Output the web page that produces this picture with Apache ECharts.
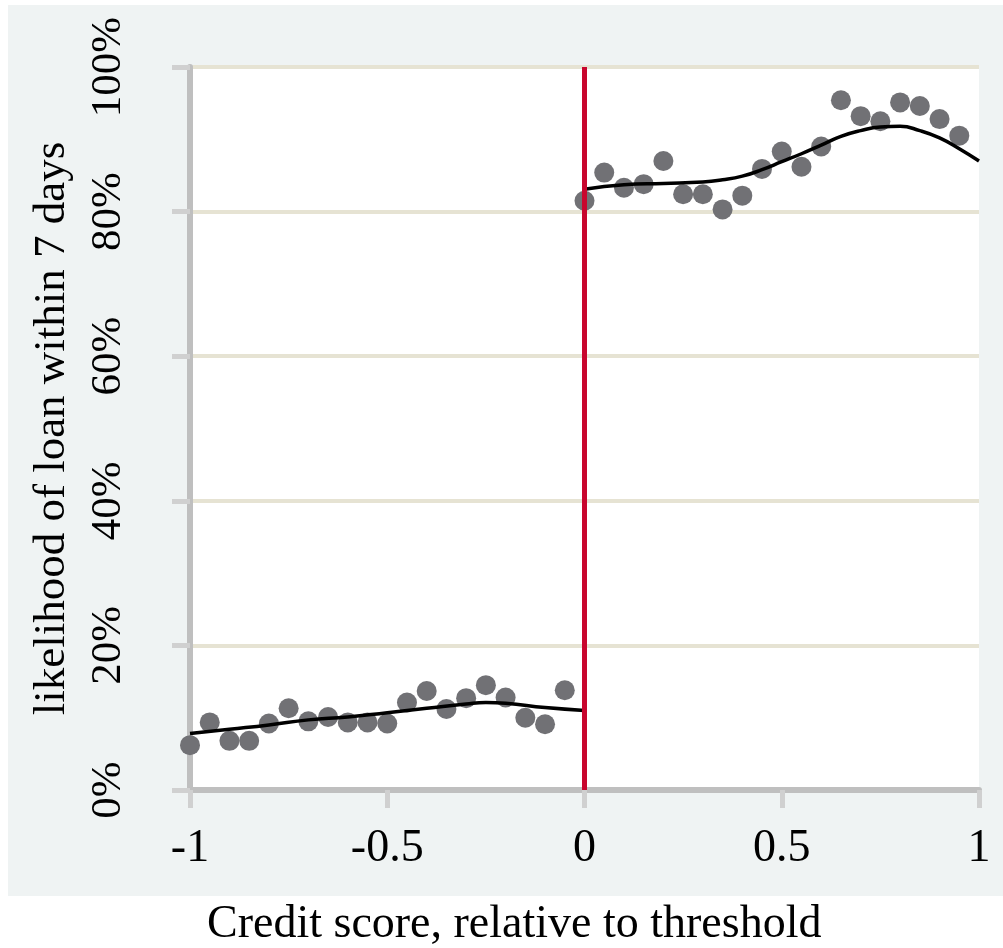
<!DOCTYPE html>
<html>
<head>
<meta charset="utf-8">
<script src="https://cdn.jsdelivr.net/npm/echarts@6/dist/echarts.min.js"></script>
<style>html,body{margin:0;padding:0;background:#fff}#c{width:1003px;height:948px}</style>
</head>
<body>
<div id="c"></div>
<script>
// Binned data: credit score relative to threshold (x) and likelihood of loan within 7 days (%)
var leftX = [-1.0,-0.95,-0.9,-0.85,-0.8,-0.75,-0.7,-0.65,-0.6,-0.55,-0.5,-0.45,-0.4,-0.35,-0.3,-0.25,-0.2,-0.15,-0.1,-0.05];
var leftY = [6.2,9.35,6.8,6.8,9.2,11.3,9.5,10.1,9.35,9.35,9.2,12.1,13.7,11.2,12.7,14.5,12.8,10.0,9.1,13.8];
var rightX = [0.0,0.05,0.1,0.15,0.2,0.25,0.3,0.35,0.4,0.45,0.5,0.55,0.6,0.65,0.7,0.75,0.8,0.85,0.9,0.95];
var rightY = [81.5,85.4,83.3,83.8,87.0,82.4,82.4,80.3,82.2,85.9,88.3,86.2,89.0,95.4,93.2,92.5,95.1,94.6,92.8,90.5];
// Fitted curves
var fitLeftX = [-1.0,-0.9,-0.8,-0.7,-0.6,-0.5,-0.4,-0.3,-0.25,-0.2,-0.1,0.0];
var fitLeftY = [7.8,8.4,9.0,9.7,10.1,10.7,11.3,11.9,12.1,12.0,11.4,11.0];
var fitRightX = [0.0,0.1,0.2,0.3,0.35,0.4,0.45,0.5,0.55,0.6,0.65,0.7,0.75,0.8,0.85,0.9,0.95,1.0];
var fitRightY = [83.1,83.7,83.9,84.1,84.4,84.9,85.8,86.9,88.0,89.2,90.4,91.2,91.7,91.8,91.2,90.2,88.7,87.0];
var thresholdX = 0;
var yTicks = ['0%','20%','40%','60%','80%','100%'];
var xTitle = 'Credit score, relative to threshold';
var yTitle = 'likelihood of loan within 7 days';

function zip(a,b){return a.map(function(v,i){return [v,b[i]];});}
var FONT = 'Liberation Serif';
var G = {left:190,right:24,top:67,bottom:158};
var chart = echarts.init(document.getElementById('c'), null, {renderer:'canvas'});
chart.setOption({
  animation:false,
  backgroundColor:'#ffffff',
  graphic:[
    {type:'rect', z:-10, silent:true, shape:{x:8,y:5,width:995,height:891}, style:{fill:'#eff3f3'}},
    {type:'rect', z:-9, silent:true, shape:{x:G.left,y:G.top,width:1003-G.left-G.right,height:948-G.top-G.bottom}, style:{fill:'#ffffff'}},
    {type:'text', left:516-309, top:902, silent:true, style:{text:xTitle, font:'46px "Liberation Serif"', fill:'#000'}}
  ],
  grid:{left:G.left,right:G.right,top:G.top,bottom:G.bottom,show:false},
  xAxis:{
    type:'value',min:-1,max:1,interval:0.5,
    axisLine:{show:true,onZero:false,lineStyle:{color:'#bfbfbf',width:6}},
    axisTick:{show:true,length:18,lineStyle:{color:'#d0d0d0',width:5}},
    splitLine:{show:false},
    axisLabel:{margin:36,color:'#000',fontFamily:FONT,fontSize:46,formatter:function(v){return String(v);}}
  },
  yAxis:{
    type:'value',min:0,max:100,interval:20,
    name:yTitle,nameLocation:'middle',nameGap:115,nameRotate:90,
    nameTextStyle:{color:'#000',fontFamily:FONT,fontSize:45},
    axisLine:{show:true,onZero:false,lineStyle:{color:'#bfbfbf',width:6}},
    axisTick:{show:true,length:18,lineStyle:{color:'#d0d0d0',width:5}},
    splitLine:{show:true,lineStyle:{color:'#e6e3d3',width:4}},
    axisLabel:{rotate:90,margin:60,color:'#000',fontFamily:FONT,fontSize:43,
      formatter:function(v){return yTicks[Math.round(v/20)];}}
  },
  series:[
    {type:'scatter',data:zip(leftX,leftY),symbolSize:20,itemStyle:{color:'#717175',opacity:1},z:2},
    {type:'scatter',data:zip(rightX,rightY),symbolSize:20,itemStyle:{color:'#717175',opacity:1},z:2,
      markLine:{silent:true,symbol:['none','none'],label:{show:false},
        lineStyle:{color:'#c8062e',width:5,type:'solid',opacity:1},data:[{xAxis:thresholdX}],z:10}},
    {type:'line',data:zip(fitLeftX,fitLeftY),smooth:true,showSymbol:false,lineStyle:{color:'#000',width:3.5},z:5},
    {type:'line',data:zip(fitRightX,fitRightY),smooth:true,showSymbol:false,lineStyle:{color:'#000',width:3.5},z:5}
  ]
});
</script>
</body>
</html>
